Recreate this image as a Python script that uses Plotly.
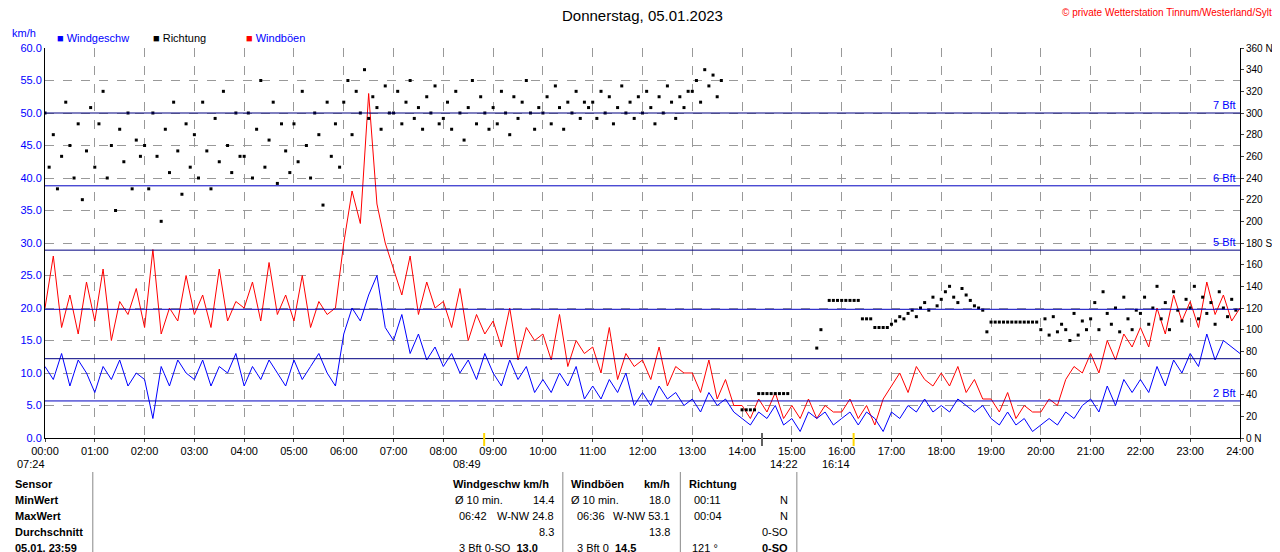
import plotly.graph_objects as go

# 10-minute values, 00:00 .. 24:00
wind = [11,9,13,8,12,10, 7,11,9,12,8,10, 9,3,11,8,12,10, 9,12,8,11,10,13,
        8,11,9,12,10,8, 12,9,11,13,10,8, 16,20,18,22,25,17, 15,19,13,16,12,14,
        11,13,10,12,9,13, 10,8,12,9,11,7, 9,7,10,8,11,6, 8,6,9,7,10,5,
        7,5,8,6,7,5, 6,4,7,5,6,4, 3,2,4,3,5,2, 3,1,4,3,4,2,
        3,4,2,4,3,1, 4,3,5,4,6,4, 5,4,6,5,4,5, 3,2,4,2,3,1,
        2,3,2,4,3,5, 6,4,8,5,9,7, 9,7,11,8,12,10, 13,11,16,12,15,14, 13]
gusts = [20,28,17,22,16,24, 18,26,15,21,19,23, 17,29,16,20,18,25, 19,22,17,26,18,21,
         20,24,18,27,19,22, 18,25,17,21,19,20, 30,38,33,53,36,30, 26,22,28,19,24,20,
         21,17,23,15,19,16, 18,14,20,12,17,15, 16,12,19,11,15,13, 14,10,17,9,13,11,
         12,9,14,8,11,10, 10,7,12,6,9,5, 5,3,6,4,7,3, 5,3,6,3,5,4,
         4,6,3,5,2,6, 8,10,7,11,9,8, 10,8,11,7,9,6, 6,4,7,3,5,4,
         4,6,5,9,11,10, 13,10,15,12,16,14, 17,14,20,16,22,18, 21,17,24,19,22,18, 20]
# 5-minute direction values (degrees), 00:00 .. 23:55
direction = [300,250,280,230,260,310,270,240,290,220,265,305,
             250,290,320,240,270,210,285,255,300,230,275,260,
             270,230,300,260,200,285,245,310,265,225,290,250,
             280,240,310,265,230,295,255,320,270,245,300,260,
             260,300,240,285,330,250,275,310,235,290,265,245,
             290,255,320,270,240,300,280,215,310,260,290,250,
             310,330,280,320,300,340,295,315,305,285,325,300,
             300,320,290,310,330,295,305,285,315,300,325,290,
             295,310,285,320,300,275,305,330,290,315,300,285,
             305,290,320,300,280,315,295,310,330,300,285,305,
             300,315,290,325,305,285,310,300,320,295,310,305,
             310,295,320,300,315,290,305,325,300,310,295,315,
             300,320,305,290,315,300,325,310,295,315,305,320,
             320,330,310,340,325,335,315,330,None,None,None,None,
             26,26,26,26,41,41,41,41,41,41,41,41,
             None,None,None,None,None,None,83,100,None,127,127,127,
             127,127,127,127,127,110,110,110,102,102,102,102,
             105,108,112,110,115,118,112,120,125,118,130,122,
             128,135,140,130,125,138,132,127,122,120,118,98,
             107,107,107,107,107,107,107,107,107,107,107,107,
             100,110,95,112,98,105,100,90,115,95,108,100,
             110,125,100,135,115,105,120,98,130,110,100,118,
             115,130,105,120,140,110,125,100,135,118,108,128,
             120,140,110,130,115,125,105,135,120,112,128,118]

t_wind = [i / 6 for i in range(len(wind))]
t_dir = [i / 12 for i in range(len(direction))]
bft_levels = [5.7, 12.2, 19.8, 28.9, 38.8, 50.0]
bft_labels = ["2 Bft", "", "", "5 Bft", "6 Bft", "7 Bft"]
hour_labels = ["%02d:00" % h for h in range(25)]
dir_ticks = list(range(0, 361, 20))
dir_text = [{0: "0 N", 180: "180 S", 360: "360 N"}.get(v, str(v)) for v in dir_ticks]

FONT = "Liberation Sans Narrow, Liberation Sans, Arial"
fig = go.Figure()
fig.add_trace(go.Scatter(x=t_wind, y=gusts, mode="lines", line=dict(color="#ff0000", width=1), name="Windböen"))
fig.add_trace(go.Scatter(x=t_wind, y=wind, mode="lines", line=dict(color="#0000ff", width=1), name="Windgeschw"))
fig.add_trace(go.Scatter(x=t_dir, y=direction, mode="markers", yaxis="y2",
                         marker=dict(color="black", size=3, symbol="square"), name="Richtung"))

shapes = []
for i, lv in enumerate(bft_levels):
    shapes.append(dict(type="line", xref="paper", x0=0, x1=1, yref="y", y0=lv, y1=lv,
                       line=dict(color="#000080" if i % 2 else "#0000c0", width=1)))

def px(x):
    return (x - 40) / 1200
def py(y):
    return (438 - y) / 390

ann = []
def txt(x, y, text, anchor="left", size=11, color="#000"):
    ann.append(dict(x=px(x), y=py(y), xref="paper", yref="paper", xanchor=anchor, yanchor="middle",
                    showarrow=False, text=text, font=dict(size=size, color=color)))

for lv, lb in zip(bft_levels, bft_labels):
    if lb:
        ann.append(dict(x=23.95, y=lv, xref="x", yref="y", text=lb, showarrow=False, xanchor="right",
                        yanchor="bottom", font=dict(color="#0000ff", size=11)))
txt(640, 15, "Donnerstag, 05.01.2023", "center", 15)
txt(1274, 12, "© private Wetterstation Tinnum/Westerland/Sylt", "right", 10, "#ff0000")
txt(5, 33, "km/h", "left", 11, "#0000ff")
for x0, col, t, tc in [(50, "#0000ff", "Windgeschw", "#0000ff"), (146, "#000", "Richtung", "#000"),
                       (240, "#ff0000", "Windböen", "#0000ff")]:
    txt(x0, 38, "<span style='color:%s'>■</span> <span style='color:%s'>%s</span>" % (col, tc, t))
for x0, t in [(10, "07:24"), (448, "08:49"), (766, "14:22"), (818, "16:14")]:
    txt(x0, 464, t)
rows = [(484, "Sensor"), (500, "MinWert"), (516, "MaxWert"), (532, "Durchschnitt"), (548, "05.01. 23:59")]
for y, t in rows:
    txt(8, y, "<b>%s</b>" % t)
cells = [(448, 484, "<b>Windgeschw km/h</b>", "left"), (566, 484, "<b>Windböen</b>", "left"),
         (670, 484, "<b>km/h</b>", "right"), (685, 484, "<b>Richtung</b>", "left"),
         (450, 500, "Ø 10 min.", "left"), (553, 500, "14.4", "right"),
         (566, 500, "Ø 10 min.", "left"), (670, 500, "18.0", "right"),
         (690, 500, "00:11", "left"), (788, 500, "N", "right"),
         (454, 516, "06:42", "left"), (553, 516, "W-NW 24.8", "right"),
         (572, 516, "06:36", "left"), (670, 516, "W-NW 53.1", "right"),
         (690, 516, "00:04", "left"), (788, 516, "N", "right"),
         (553, 532, "8.3", "right"), (670, 532, "13.8", "right"), (788, 532, "0-SO", "right"),
         (454, 548, "3 Bft 0-SO  <b>13.0</b>", "left"), (572, 548, "3 Bft 0  <b>14.5</b>", "left"),
         (688, 548, "121 °", "left"), (788, 548, "<b>0-SO</b>", "right")]
for x, y, t, a in cells:
    txt(x, y, t, a)
for x in [88, 560, 678, 795]:
    shapes.append(dict(type="line", xref="paper", yref="paper", x0=px(x), x1=px(x),
                       y0=py(472), y1=py(552), line=dict(color="#888", width=1)))
for x, c in [(481, "#ffd700"), (852, "#ffd700"), (760, "#606060")]:
    shapes.append(dict(type="line", xref="paper", yref="paper", x0=px(x), x1=px(x),
                       y0=py(433), y1=py(446), line=dict(color=c, width=2)))

fig.update_layout(
    width=1280, height=552, plot_bgcolor="white", paper_bgcolor="white",
    margin=dict(l=32, r=48, t=40, b=122), showlegend=False,
    font=dict(family=FONT, size=11, color="#000"),
    xaxis=dict(range=[0, 24], tickvals=list(range(25)), ticktext=hour_labels, showgrid=True,
               gridcolor="#999", griddash="dash", gridwidth=1, zeroline=False, showline=True,
               linecolor="#000", ticks="outside", ticklen=3, tickfont=dict(size=11)),
    yaxis=dict(range=[0, 60], dtick=5, tickformat=".1f", showgrid=True, gridcolor="#999",
               griddash="dash", zeroline=False, showline=True, linecolor="#000", mirror=True,
               tickfont=dict(color="#0000ff", size=11)),
    yaxis2=dict(range=[0, 360], overlaying="y", side="right", tickvals=dir_ticks, ticktext=dir_text,
                showgrid=False, zeroline=False, ticks="outside", ticklen=3, tickfont=dict(size=10)),
    shapes=shapes, annotations=ann,
)
fig.write_html("out.html")
